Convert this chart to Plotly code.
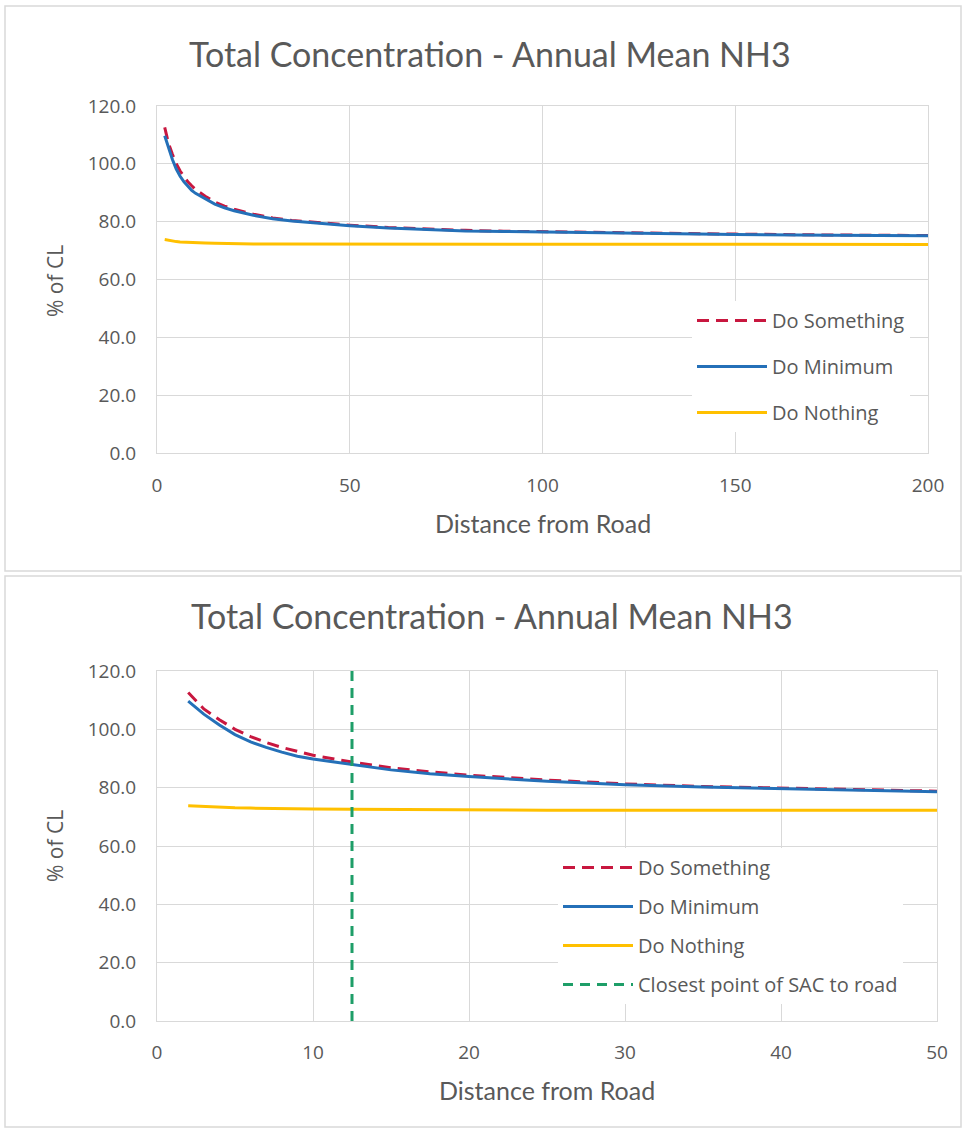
import plotly.graph_objects as go

# ---- data ----
distance = [2, 3, 4, 5, 6, 7, 8, 9, 10, 12.5, 15, 17.5, 20, 25, 30, 35, 40, 45, 50,
            60, 70, 80, 90, 100, 125, 150, 175, 200]
do_something = [112.6, 107.0, 103.3, 100.0, 97.5, 95.5, 93.8, 92.4, 91.1, 88.8, 86.8, 85.4,
                84.3, 82.6, 81.3, 80.4, 79.8, 79.3, 78.8, 78.0, 77.4, 77.0, 76.7, 76.5,
                76.1, 75.7, 75.4, 75.2]
do_minimum = [109.7, 105.2, 101.5, 98.2, 95.7, 93.8, 92.2, 90.8, 89.8, 87.9, 86.1, 84.8,
              83.8, 82.2, 81.0, 80.2, 79.6, 79.1, 78.6, 77.8, 77.2, 76.8, 76.6, 76.4,
              76.0, 75.6, 75.3, 75.1]
do_nothing = [73.8, 73.5, 73.3, 73.1, 73.0, 72.9, 72.8, 72.8, 72.7, 72.6, 72.5, 72.4,
              72.4, 72.3, 72.3, 72.3, 72.3, 72.3, 72.3, 72.2, 72.2, 72.2, 72.2, 72.2,
              72.2, 72.1, 72.1, 72.1]
sac_distance = 12.5
y_ticks = [0, 20, 40, 60, 80, 100, 120]
x_ticks_top = [0, 50, 100, 150, 200]
x_ticks_bottom = [0, 10, 20, 30, 40, 50]

title_text = "Total Concentration - Annual Mean NH3"
x_title = "Distance from Road"
y_title = "% of CL"

# ---- styling ----
W, H = 966, 1133
C_DS = "#C8173F"
C_DM = "#2470B8"
C_DN = "#FFC000"
C_SAC = "#1E9E68"
GRID = "#D9D9D9"
TXT = "#595959"
TICK_FONT = dict(family="Open Sans", size=19, color=TXT)
TITLE_FONT = "Lato"


def px_x(p):
    return p / W


def px_y(p):
    return 1 - p / H


fig = go.Figure()

# top chart
fig.add_trace(go.Scatter(x=distance, y=do_something, name="Do Something", mode="lines",
                         line=dict(color=C_DS, width=3, dash="12px,7px"),
                         xaxis="x", yaxis="y", legend="legend", legendgroup="a"))
fig.add_trace(go.Scatter(x=distance, y=do_minimum, name="Do Minimum", mode="lines",
                         line=dict(color=C_DM, width=3),
                         xaxis="x", yaxis="y", legend="legend", legendgroup="b"))
fig.add_trace(go.Scatter(x=distance, y=do_nothing, name="Do Nothing", mode="lines",
                         line=dict(color=C_DN, width=3),
                         xaxis="x", yaxis="y", legend="legend", legendgroup="c"))

# bottom chart (first 50 m)
sub = [i for i, d in enumerate(distance) if d <= 50]
fig.add_trace(go.Scatter(x=[distance[i] for i in sub], y=[do_something[i] for i in sub],
                         name="Do Something", mode="lines",
                         line=dict(color=C_DS, width=3, dash="12px,7px"),
                         xaxis="x2", yaxis="y2", legend="legend2", legendgroup="d"))
fig.add_trace(go.Scatter(x=[distance[i] for i in sub], y=[do_minimum[i] for i in sub],
                         name="Do Minimum", mode="lines",
                         line=dict(color=C_DM, width=3),
                         xaxis="x2", yaxis="y2", legend="legend2", legendgroup="e"))
fig.add_trace(go.Scatter(x=[distance[i] for i in sub], y=[do_nothing[i] for i in sub],
                         name="Do Nothing", mode="lines",
                         line=dict(color=C_DN, width=3),
                         xaxis="x2", yaxis="y2", legend="legend2", legendgroup="f"))
fig.add_trace(go.Scatter(x=[sac_distance, sac_distance], y=[y_ticks[0], y_ticks[-1]],
                         name="Closest point of SAC to road", mode="lines",
                         line=dict(color=C_SAC, width=3, dash="10px,7px"),
                         xaxis="x2", yaxis="y2", legend="legend2", legendgroup="g"))


def xaxis(domain, ticks, anchor, standoff):
    return dict(domain=domain, range=[ticks[0], ticks[-1]], tickvals=ticks,
                showgrid=True, gridcolor=GRID, gridwidth=1, zeroline=False,
                showline=True, linecolor=GRID, linewidth=1, mirror=True, automargin=False,
                ticks="", tickfont=TICK_FONT, ticklabelstandoff=standoff, anchor=anchor)


def yaxis(domain, anchor):
    return dict(domain=domain, range=[0, 120], tickvals=y_ticks, tickformat=".1f",
                showgrid=True, gridcolor=GRID, gridwidth=1, zeroline=False,
                showline=True, linecolor=GRID, linewidth=1, mirror=True, automargin=False,
                ticks="", tickfont=TICK_FONT, ticklabelstandoff=16, anchor=anchor)


legend_common = dict(bgcolor="white", borderwidth=0,
                     font=dict(family="Open Sans", size=20, color=TXT),
                     itemwidth=70, xanchor="left", yanchor="top")

fig.update_layout(
    width=W, height=H,
    margin=dict(l=0, r=0, t=0, b=0, pad=0, autoexpand=False),
    paper_bgcolor="white", plot_bgcolor="white",
    xaxis=xaxis([px_x(157), px_x(928)], x_ticks_top, "y", 15),
    yaxis=yaxis([px_y(453), px_y(106)], "x"),
    xaxis2=xaxis([px_x(157), px_x(937)], x_ticks_bottom, "y2", 14),
    yaxis2=yaxis([px_y(1021), px_y(671)], "x2"),
    legend=dict(x=px_x(692), y=px_y(301), tracegroupgap=17, **legend_common),
    legend2=dict(x=px_x(558), y=px_y(848), tracegroupgap=10, **legend_common),
    showlegend=True,
)

# card frames
for (y0, y1) in [(6, 571), (576, 1127)]:
    fig.add_shape(type="rect", xref="paper", yref="paper",
                  x0=px_x(5), x1=px_x(961), y0=px_y(y1), y1=px_y(y0),
                  line=dict(color="#D9D9D9", width=1.5), fillcolor="rgba(0,0,0,0)",
                  layer="below")

# titles and axis titles
ann = []
for (cx, ty) in [(490, 54), (492, 615)]:
    ann.append(dict(text=title_text, x=px_x(cx), y=px_y(ty), xref="paper", yref="paper",
                    showarrow=False, xanchor="center", yanchor="middle",
                    font=dict(family=TITLE_FONT, size=34, color=TXT)))
for (cx, ty) in [(543, 523), (547, 1090)]:
    ann.append(dict(text=x_title, x=px_x(cx), y=px_y(ty), xref="paper", yref="paper",
                    showarrow=False, xanchor="center", yanchor="middle",
                    font=dict(family=TITLE_FONT, size=25, color=TXT)))
for (cy) in [281, 846]:
    ann.append(dict(text=y_title, x=px_x(55), y=px_y(cy), xref="paper", yref="paper",
                    showarrow=False, xanchor="center", yanchor="middle", textangle=-90,
                    font=dict(family="Open Sans", size=21, color=TXT)))
fig.update_layout(annotations=ann)

fig.write_html("out.html", config={"displayModeBar": False},
               post_script="document.body.style.margin='0';document.body.style.overflow='hidden';")
